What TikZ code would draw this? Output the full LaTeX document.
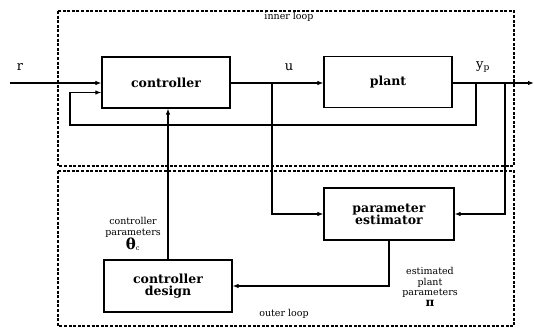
\documentclass[tikz,border=0pt]{standalone}
\usepackage{fontspec}
\setmainfont{DejaVu Serif}
\usetikzlibrary{arrows.meta, positioning, calc}

\begin{document}
\begin{tikzpicture}[x=1pt, y=-1pt,
    blk/.style={draw, line width=1.2pt, minimum width=128pt,
                minimum height=51pt, align=center,
                font=\fontsize{12.5}{14}\selectfont\bfseries},
    sig/.style={-{Latex[length=6pt,width=4.5pt]}, line width=1.1pt},
    lp/.style={draw, line width=1.5pt, dash pattern=on 3pt off 1.6pt},
    lb/.style={font=\fontsize{9.5}{10.5}\selectfont, align=center, inner sep=1pt},
    sg/.style={font=\fontsize{13}{14}\selectfont, inner sep=1pt}
  ]
    \useasboundingbox (0,0) rectangle (534,328);

    %% loops
    \draw[lp] (58,11) rectangle (514,166);
    \draw[lp] (58,171) rectangle (514,326);
    \node[lb] (inl) at (289,17) {inner loop};
    \node[lb] (outl) at (284,314) {outer loop};

    %% blocks
    \node[blk] (ctrl)  at (166,82.5) {controller};
    \node[blk] (plant) at (388,82)   {plant};
    \node[blk, minimum width=130pt, minimum height=52pt] (est) at (389,214)
          {parameter\\[-2pt]estimator};
    \node[blk, minimum height=52pt] (des) at (168,286)
          {controller\\[-2pt]design};

    %% branch points
    \coordinate (rin)  at (10,83);
    \coordinate (ubr)  at (272,83);
    \coordinate (yfb)  at (476,83);
    \coordinate (yest) at (505,83);
    \coordinate (yout) at (534,83);
    \coordinate (fbl)  at (70,125);

    %% inner loop signals
    \draw[sig] (rin) -- (ctrl.west |- rin);
    \node[sg] (rlab) at (20,67) {r};
    \draw[sig] (ctrl.east |- ubr) -- (plant.west |- ubr);
    \node[sg] (ulab) at (289,67) {u};
    \draw[sig] (plant.east |- yout) -- (yout);
    \node[sg] (ylab) at (483,67) {y\textsubscript{p}};
    \draw[sig] (yfb) |- (fbl) |- ($(ctrl.west)+(0,10)$);

    %% outer loop signals
    \draw[sig] (ubr) |- (est.west);
    \draw[sig] (yest) |- (est.east);
    \draw[sig] (est.south) |- (des.east);
    \draw[sig] (des.north) -- (des.north |- ctrl.south);

    \node[lb] (cpar) at (133,234)
          {controller\\parameters\\{\fontsize{15}{15}\selectfont\bfseries θ}\textsubscript{c}};
    \node[lb] (ppar) at (430,287)
          {estimated\\plant\\parameters\\{\fontsize{12}{12}\selectfont\bfseries π}};
\end{tikzpicture}
\end{document}
